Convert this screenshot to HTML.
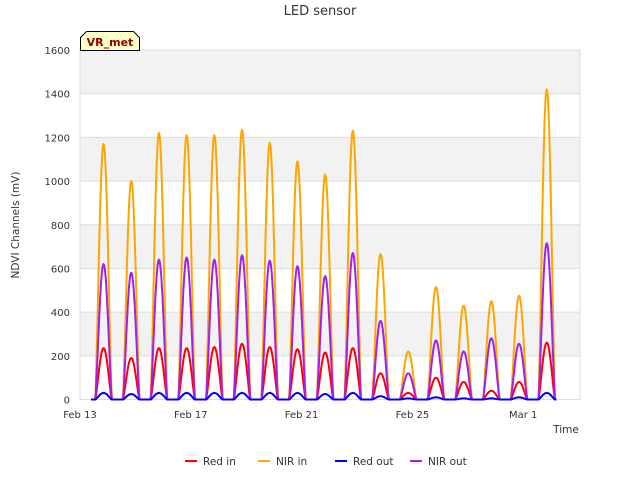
<!DOCTYPE html>
<html><head><meta charset="utf-8"><style>
body{margin:0;background:#fff;font-family:"Liberation Sans","DejaVu Sans",sans-serif}
svg text{font-family:"DejaVu Sans","Liberation Sans",sans-serif}
</style></head><body>
<svg id="chart" width="640" height="480" xmlns="http://www.w3.org/2000/svg">
<text x="320" y="15" text-anchor="middle" font-size="13" fill="#333">LED sensor</text>
<g id="grid"></g>
<g id="series"></g>
<g id="axes"></g>
<text transform="translate(19,225) rotate(-90)" text-anchor="middle" font-size="10.5" fill="#333">NDVI Channels (mV)</text>
<text x="566" y="433" font-size="10.5" fill="#333" text-anchor="middle">Time</text>
<g>
<path d="M80.5,50.5 L80.5,37.5 L86.5,31.5 L133.5,31.5 L139.5,37.5 L139.5,50.5 Z" fill="#ffffc8" stroke="#000"/>
<text x="110" y="46" text-anchor="middle" font-size="11" font-weight="bold" fill="#8b0000">VR_met</text>
</g>
<g id="legend"></g>
</svg>
<script>
const dayLabels=["Feb 13","Feb 17","Feb 21","Feb 25","Mar 1"];
const dayTicks=[0,4,8,12,16];
const yTicks=[0,200,400,600,800,1000,1200,1400,1600];
const days=[0,1,2,3,4,5,6,7,8,9,10,11,12,13,14,15,16];
const nirIn=[1170,1000,1220,1210,1210,1235,1175,1090,1030,1230,665,220,515,430,450,475,1420];
const nirOut=[620,580,640,650,640,660,635,610,565,670,360,120,270,220,280,255,715];
const redIn=[235,190,235,235,240,255,240,230,215,235,120,30,100,80,40,80,260];
const redOut=[30,25,30,30,30,30,30,30,25,30,15,5,10,5,5,10,30];
const L=80,R=580,T=50,B=399.5;
const xs=d=>L+d*27.7;
const ys=v=>B-(v/1600)*(B-T);
const NS="http://www.w3.org/2000/svg";
function mk(tag,attrs,parent){const e=document.createElementNS(NS,tag);for(const k in attrs)e.setAttribute(k,attrs[k]);parent.appendChild(e);return e;}
const grid=document.getElementById('grid');
for(let i=0;i<yTicks.length-1;i++){
  if(i%2===1){const r=mk('rect',{x:L,y:ys(yTicks[i+1]),width:R-L,height:ys(yTicks[i])-ys(yTicks[i+1]),fill:'#f2f2f2'},grid);
  
  }
}
const axes=document.getElementById('axes');
yTicks.forEach(v=>{
  const l=mk('line',{x1:L,x2:R,y1:ys(v),y2:ys(v),stroke:'#dcdcdc','stroke-width':1},grid);
  
  
  const t=mk('text',{x:L-10,y:ys(v)+4,'text-anchor':'end','font-size':10,fill:'#333'},axes);
  t.textContent=v;
  
  
});
mk('rect',{x:L,y:T,width:R-L,height:B-T,fill:'none',stroke:'#dcdcdc'},grid);
dayTicks.forEach((d,i)=>{
  const t=mk('text',{x:xs(d),y:418,'text-anchor':'middle','font-size':10,fill:'#333'},axes);
  t.textContent=dayLabels[i];
  
  
});
const series=document.getElementById('series');
function draw(vals,color,name){
  let pts=[[xs(0.4),ys(0)]];
  days.forEach((d,i)=>{
    const c=d+0.85,w=0.3;
    for(let t=-w;t<=w+1e-9;t+=0.02){
      const s=Math.cos(Math.PI*t/(2*w));
      pts.push([xs(c+t),ys(vals[i]*Math.pow(Math.max(s,0),1.3))]);
    }
  });
  pts.push([xs(17.2),ys(0)]);
  const p=mk('polyline',{points:pts.map(p=>p[0].toFixed(1)+','+p[1].toFixed(1)).join(' '),fill:'none',stroke:color,'stroke-width':2,'stroke-linejoin':'round'},series);
  
  
}
draw(nirIn,'#ffa500','nir-in-line');
draw(redIn,'#ff0000','red-in-line');
draw(nirOut,'#a020f0','nir-out-line');
draw(redOut,'#0000ff','red-out-line');
const legend=document.getElementById('legend');
const legNames=["Red in","NIR in","Red out","NIR out"];
const legColors=["#ff0000","#ffa500","#0000ff","#a020f0"];
const legX=[185,258,335,410];
legNames.forEach((n,i)=>{
  const g=mk('g',{},legend);
  
  
  mk('line',{x1:legX[i],x2:legX[i]+12,y1:461,y2:461,stroke:legColors[i],'stroke-width':2},g);
  const t=mk('text',{x:legX[i]+18,y:465,'font-size':10.5,fill:'#333'},g);
  t.textContent=n;
});
</script>
</body></html>
